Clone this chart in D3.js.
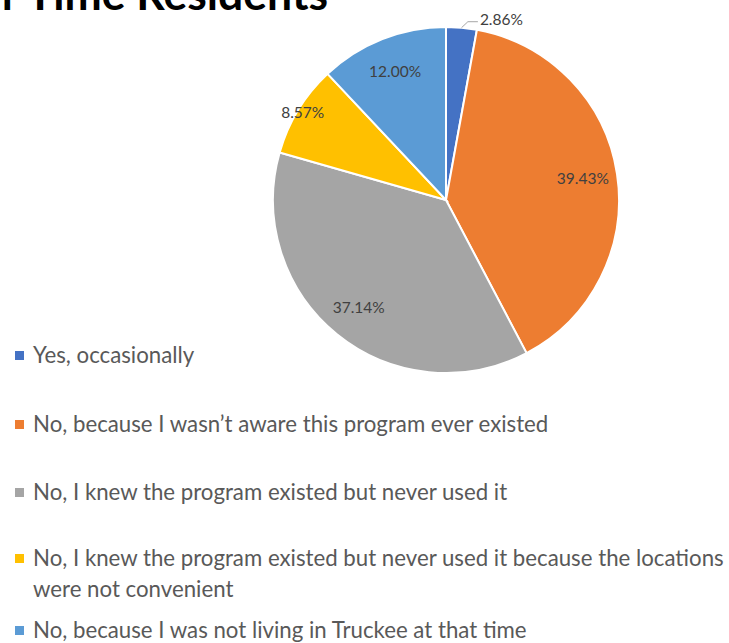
<!DOCTYPE html>
<html>
<head>
<meta charset="utf-8">
<script src="https://cdn.jsdelivr.net/npm/d3@7"></script>
<style>
  body { margin: 0; background: #fff; }
  svg { display: block; }
  text { font-family: Lato, "Open Sans", sans-serif; }
</style>
</head>
<body>
<div id="chart"></div>
<script>
// Chart data
const titleText = "Full-Time Residents";
const categories = [
  "Yes, occasionally",
  "No, because I wasn\u2019t aware this program ever existed",
  "No, I knew the program existed but never used it",
  "No, I knew the program existed but never used it because the locations|were not convenient",
  "No, because I was not living in Truckee at that time"
];
const percents = [2.86, 39.43, 37.14, 8.57, 12.00];
const colors = ["#4472C4", "#ED7D31", "#A5A5A5", "#FFC000", "#5B9BD5"];

const width = 729, height = 643;
const cx = 446, cy = 200, radius = 173;

const svg = d3.select("#chart").append("svg")
  .attr("width", width)
  .attr("height", height);

// Title (cut off at the top and left, like the source)
const title = svg.append("text")
  .attr("x", 328)
  .attr("y", 10)
  .attr("text-anchor", "end")
  .style("font-weight", "bold")
  .style("font-size", "44.5px")
  .style("fill", "#000")
  .text(titleText);

// Pie
const pie = d3.pie().sort(null).value(d => d);
const arcs = pie(percents);
const arc = d3.arc().innerRadius(0).outerRadius(radius);

const g = svg.append("g").attr("transform", `translate(${cx},${cy})`);

g.selectAll("path.slice")
  .data(arcs)
  .enter().append("path")
  .attr("class", "slice")
  .attr("d", arc)
  .attr("fill", (d, i) => colors[i])
  .attr("stroke", "#fff")
  .attr("stroke-width", 2);

// Data labels
const fmt = v => v.toFixed(2) + "%";
const labelArc = v => d3.arc()
  .innerRadius(radius * (v < 10 ? 0.97 : 0.8))
  .outerRadius(radius * (v < 10 ? 0.97 : 0.8));

arcs.forEach((d, i) => {
  if (d.value < 5) {
    // small slice: label outside with a leader line
    const mid = (d.startAngle + d.endAngle) / 2;
    const p0 = [Math.sin(mid) * radius, -Math.cos(mid) * radius];
    const p1 = [Math.sin(mid) * (radius + 4) + 6, -Math.cos(mid) * (radius + 4) - 2];
    const p2 = [p1[0] + 10, p1[1]];
    g.append("path")
      .attr("d", d3.line()([p0, p1, p2]))
      .attr("fill", "none")
      .attr("stroke", "#a6a6a6")
      .attr("stroke-width", 1);
    g.append("text")
      .attr("x", p2[0] + 2)
      .attr("y", p2[1] - 2)
      .attr("dy", "0.35em")
      .style("font-size", "15.5px")
      .style("fill", "#404040")
      .text(fmt(d.value));
  } else {
    const c = labelArc(d.value).centroid(d);
    g.append("text")
      .attr("x", c[0])
      .attr("y", c[1])
      .attr("dy", "0.35em")
      .attr("text-anchor", "middle")
      .style("font-size", "15.5px")
      .style("fill", "#404040")
      .text(fmt(d.value));
  }
});

// Legend
const legendY = [363, 432, 500, 566, 638];
const lineGap = 31;
const legend = svg.append("g");
categories.forEach((name, i) => {
  legend.append("rect")
    .attr("x", 15)
    .attr("y", legendY[i] - 12)
    .attr("width", 9)
    .attr("height", 9)
    .attr("fill", colors[i]);
  name.split("|").forEach((line, j) => {
    legend.append("text")
      .attr("class", "legend-text")
      .attr("x", 33)
      .attr("y", legendY[i] + j * lineGap)
      .style("font-size", "20px")
      .style("fill", "#595959")
      .text(line);
  });
});

// fit legend font so the longest line spans like the source (~691px)
const longest = legend.selectAll("text").nodes()
  .reduce((a, n) => Math.max(a, n.getComputedTextLength()), 0);
const fs = 20 * 691 / longest;
legend.selectAll("text").style("font-size", fs + "px");
</script>
</body>
</html>
